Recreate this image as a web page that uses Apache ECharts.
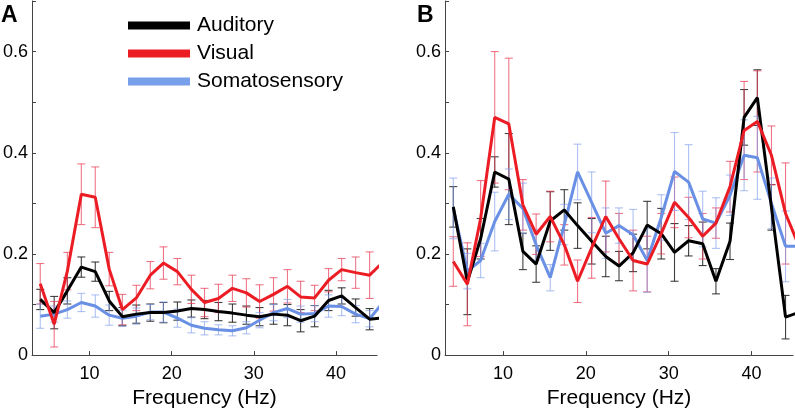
<!DOCTYPE html>
<html><head><meta charset="utf-8">
<script src="https://cdn.jsdelivr.net/npm/echarts@6/dist/echarts.min.js"></script>
<style>html,body{margin:0;padding:0;background:#fff}#c{width:795px;height:414px}</style>
</head><body><div id="c"></div>
<script>
const freqs = [4.0, 5.7, 7.3, 9.0, 10.7, 12.4, 14.0, 15.7, 17.4, 19.0, 20.7, 22.4, 24.0, 25.7, 27.4, 29.1, 30.7, 32.4, 34.1, 35.7, 37.4, 39.1, 40.7, 42.4, 44.1, 45.8];
const xTickLabels = [10, 20, 30, 40];
const yTickLabels = [0, 0.2, 0.4, 0.6];

const A_aud = [0.110, 0.084, 0.127, 0.174, 0.165, 0.107, 0.076, 0.081, 0.084, 0.084, 0.087, 0.092, 0.090, 0.086, 0.083, 0.079, 0.076, 0.081, 0.079, 0.068, 0.077, 0.108, 0.117, 0.094, 0.071, 0.074];
const A_aud_err = [0.020, 0.032, 0.026, 0.020, 0.019, 0.019, 0.018, 0.018, 0.017, 0.020, 0.018, 0.017, 0.018, 0.018, 0.018, 0.018, 0.018, 0.020, 0.021, 0.022, 0.021, 0.020, 0.016, 0.017, 0.021];
const A_vis = [0.141, 0.061, 0.166, 0.318, 0.312, 0.170, 0.090, 0.113, 0.158, 0.182, 0.165, 0.130, 0.104, 0.112, 0.132, 0.123, 0.106, 0.120, 0.136, 0.115, 0.113, 0.148, 0.169, 0.163, 0.158, 0.185];
const A_vis_err = [0.040, 0.045, 0.037, 0.060, 0.060, 0.033, 0.030, 0.025, 0.027, 0.032, 0.026, 0.028, 0.028, 0.028, 0.026, 0.028, 0.033, 0.033, 0.033, 0.031, 0.025, 0.023, 0.022, 0.031, 0.046];
const A_som = [0.077, 0.081, 0.090, 0.104, 0.097, 0.079, 0.073, 0.077, 0.085, 0.085, 0.073, 0.059, 0.053, 0.050, 0.048, 0.054, 0.069, 0.084, 0.092, 0.081, 0.082, 0.097, 0.096, 0.081, 0.072, 0.105];
const A_som_err = [0.024, 0.016, 0.017, 0.018, 0.022, 0.020, 0.016, 0.016, 0.015, 0.020, 0.018, 0.015, 0.013, 0.010, 0.010, 0.012, 0.015, 0.016, 0.018, 0.016, 0.016, 0.022, 0.018, 0.017, 0.016];

const B_aud = [0.293, 0.145, 0.230, 0.362, 0.348, 0.205, 0.180, 0.265, 0.287, 0.256, 0.225, 0.195, 0.176, 0.202, 0.257, 0.240, 0.203, 0.226, 0.220, 0.146, 0.225, 0.470, 0.509, 0.292, 0.075, 0.085];
const B_aud_err = [0.040, 0.065, 0.040, 0.030, 0.090, 0.036, 0.036, 0.058, 0.040, 0.045, 0.045, 0.040, 0.029, 0.037, 0.047, 0.050, 0.057, 0.030, 0.043, 0.025, 0.036, 0.055, 0.055, 0.045, 0.043];
const B_vis = [0.185, 0.140, 0.270, 0.470, 0.457, 0.297, 0.239, 0.274, 0.218, 0.146, 0.212, 0.274, 0.230, 0.187, 0.180, 0.240, 0.302, 0.272, 0.235, 0.261, 0.333, 0.444, 0.462, 0.395, 0.280, 0.212];
const B_vis_err = [0.049, 0.082, 0.075, 0.130, 0.130, 0.050, 0.040, 0.050, 0.040, 0.042, 0.060, 0.070, 0.050, 0.060, 0.055, 0.040, 0.050, 0.040, 0.045, 0.030, 0.050, 0.097, 0.100, 0.058, 0.100];
const B_som = [0.290, 0.166, 0.187, 0.264, 0.318, 0.290, 0.218, 0.153, 0.258, 0.362, 0.302, 0.241, 0.256, 0.238, 0.187, 0.272, 0.363, 0.342, 0.269, 0.261, 0.316, 0.395, 0.390, 0.300, 0.215, 0.215];
const B_som_err = [0.060, 0.035, 0.034, 0.058, 0.050, 0.050, 0.030, 0.026, 0.040, 0.055, 0.060, 0.050, 0.035, 0.050, 0.063, 0.045, 0.077, 0.074, 0.055, 0.050, 0.040, 0.070, 0.082, 0.050, 0.070];

const FONT = 'Liberation Sans, Arial, sans-serif';
const C_AUD = '#000000', C_VIS = '#ec1c24', C_SOM = '#6990e4';
const E_AUD = 'rgba(30,30,30,0.85)', E_VIS = 'rgba(232,60,85,0.7)', E_SOM = 'rgba(125,155,235,0.62)';

const chart = echarts.init(document.getElementById('c'), null, {renderer: 'canvas'});

function pts(vals) { return vals.map((v, i) => [freqs[i], v]); }
function errs(vals, e) { return e.map((d, i) => [freqs[i], vals[i] - d, vals[i] + d]); }

function errSeries(idx, vals, e, color) {
  return {
    type: 'custom', xAxisIndex: idx, yAxisIndex: idx, z: 1, silent: true,
    data: errs(vals, e),
    renderItem: function (params, api) {
      const lo = api.coord([api.value(0), api.value(1)]);
      const hi = api.coord([api.value(0), api.value(2)]);
      const w = 4;
      const st = {stroke: color, lineWidth: 1.1};
      return {type: 'group', children: [
        {type: 'line', shape: {x1: lo[0], y1: lo[1], x2: hi[0], y2: hi[1]}, style: st},
        {type: 'line', shape: {x1: lo[0] - w, y1: lo[1], x2: lo[0] + w, y2: lo[1]}, style: st},
        {type: 'line', shape: {x1: hi[0] - w, y1: hi[1], x2: hi[0] + w, y2: hi[1]}, style: st}
      ]};
    }
  };
}
function lineSeries(idx, name, vals, color) {
  return {type: 'line', name: name, xAxisIndex: idx, yAxisIndex: idx, z: 3, data: pts(vals),
    symbol: 'none', clip: true, lineStyle: {color: color, width: 3}, itemStyle: {color: color}};
}

function xAx(idx) {
  return {type: 'value', gridIndex: idx, min: 3, max: 45,
    name: 'Frequency (Hz)', nameLocation: 'middle', nameGap: 30,
    nameTextStyle: {fontFamily: FONT, fontSize: 21, color: '#000'},
    axisLine: {lineStyle: {color: '#444', width: 1}},
    axisTick: {inside: true, length: 4, lineStyle: {color: '#444'}, customValues: xTickLabels},
    axisLabel: {fontFamily: FONT, fontSize: 18, color: '#000', margin: 10, customValues: xTickLabels},
    splitLine: {show: false}};
}
function yAx(idx) {
  return {type: 'value', gridIndex: idx, min: 0, max: 0.7, interval: 0.1,
    axisLine: {show: true, lineStyle: {color: '#444', width: 1}},
    axisTick: {show: true, inside: true, length: 4, lineStyle: {color: '#444'}},
    axisLabel: {fontFamily: FONT, fontSize: 18, color: '#000', margin: 4,
      formatter: function (v) {
        for (const t of yTickLabels) { if (Math.abs(v - t) < 1e-6) return t === 0 ? '0' : t.toFixed(1); }
        return '';
      }},
    splitLine: {show: false}};
}

chart.setOption({
  animation: false,
  grid: [
    {left: 30, top: 1, width: 347, height: 357},
    {left: 445, top: 1, width: 348, height: 357}
  ],
  xAxis: [xAx(0), xAx(1)],
  yAxis: [yAx(0), yAx(1)],
  legend: {
    left: 123, top: 10, orient: 'vertical', itemWidth: 62, itemHeight: 8, itemGap: 7,
    icon: 'rect', selectedMode: false,
    textStyle: {fontFamily: FONT, fontSize: 21, color: '#000', lineHeight: 21, padding: [0, 0, 0, 2]},
    data: [
      {name: 'Auditory', itemStyle: {color: C_AUD}},
      {name: 'Visual', itemStyle: {color: C_VIS}},
      {name: 'Somatosensory', itemStyle: {color: '#78a0ea'}}
    ]
  },
  graphic: [
    {type: 'text', left: 1, top: 4, style: {text: 'A', font: 'bold 23px ' + FONT, fill: '#000'}},
    {type: 'text', left: 417, top: 4, style: {text: 'B', font: 'bold 23px ' + FONT, fill: '#000'}}
  ],
  series: [
    errSeries(0, A_aud, A_aud_err, E_AUD),
    errSeries(0, A_vis, A_vis_err, E_VIS),
    errSeries(0, A_som, A_som_err, E_SOM),
    lineSeries(0, 'Somatosensory', A_som, C_SOM),
    lineSeries(0, 'Auditory', A_aud, C_AUD),
    lineSeries(0, 'Visual', A_vis, C_VIS),
    errSeries(1, B_aud, B_aud_err, E_AUD),
    errSeries(1, B_vis, B_vis_err, E_VIS),
    errSeries(1, B_som, B_som_err, E_SOM),
    lineSeries(1, 'Somatosensory', B_som, C_SOM),
    lineSeries(1, 'Auditory', B_aud, C_AUD),
    lineSeries(1, 'Visual', B_vis, C_VIS)
  ]
});
</script></body></html>
